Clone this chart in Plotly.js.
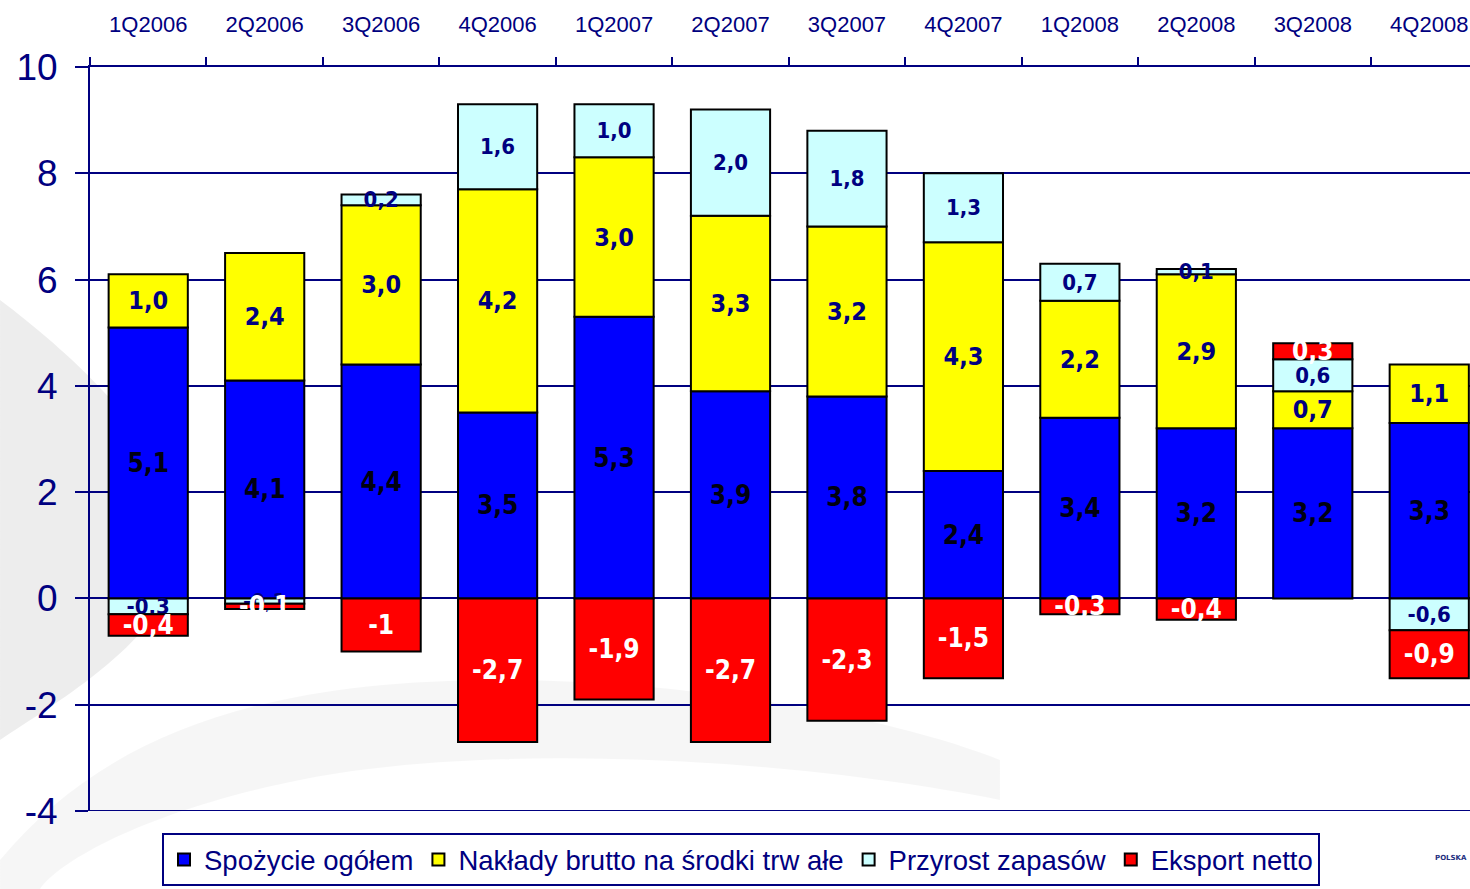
<!DOCTYPE html>
<html>
<head>
<meta charset="utf-8">
<script src="https://cdn.plot.ly/plotly-3.0.1.min.js"></script>
<style>
  html, body { margin: 0; padding: 0; background: #ffffff; overflow: hidden; }
  #chart { width: 1470px; height: 889px; }
</style>
</head>
<body>
<div id="chart"></div>
<script>
// ---- data ----
const quarters = ['1Q2006','2Q2006','3Q2006','4Q2006','1Q2007','2Q2007','3Q2007','4Q2007','1Q2008','2Q2008','3Q2008','4Q2008'];
const spozycie = [5.1, 4.1, 4.4, 3.5, 5.3, 3.9, 3.8, 2.4, 3.4, 3.2, 3.2, 3.3];
const naklady  = [1.0, 2.4, 3.0, 4.2, 3.0, 3.3, 3.2, 4.3, 2.2, 2.9, 0.7, 1.1];
const zapasy   = [-0.3, -0.1, 0.2, 1.6, 1.0, 2.0, 1.8, 1.3, 0.7, 0.1, 0.6, -0.6];
const eksport  = [-0.4, -0.1, -1, -2.7, -1.9, -2.7, -2.3, -1.5, -0.3, -0.4, 0.3, -0.9];
const seriesNames = ['Spożycie ogółem', 'Nakłady brutto na środki trw ałe', 'Przyrost zapasów', 'Eksport netto'];
const yTickVals = [-4, -2, 0, 2, 4, 6, 8, 10];
const yTickText = ['-4', '-2', '0', '2', '4', '6', '8', '10'];

// ---- helpers ----
const NAVY = '#000080';
const fmt1 = v => v.toFixed(1).replace('.', ',');
const fmtG = v => String(v).replace('.', ',');
const labelFont = 'DejaVu Sans Condensed, DejaVu Sans, Verdana, sans-serif';

function barTrace(name, values, color, textColor, size, fmt) {
  return {
    type: 'bar',
    name: name,
    x: quarters,
    y: values,
    text: values.map(fmt),
    textposition: 'inside',
    insidetextanchor: 'middle',
    constraintext: 'none',
    textangle: 0,
    cliponaxis: false,
    textfont: { family: labelFont, size: size, color: textColor, weight: 'bold' },
    insidetextfont: { family: labelFont, size: size, color: textColor, weight: 'bold' },
    marker: { color: color, line: { color: '#000000', width: 2 } },
    hoverinfo: 'skip'
  };
}

const traces = [
  barTrace(seriesNames[0], spozycie, '#0000FF', '#000010', 26, fmt1),
  barTrace(seriesNames[1], naklady,  '#FFFF00', NAVY, 25, fmt1),
  barTrace(seriesNames[2], zapasy,   '#CCFFFF', NAVY, 22, fmt1),
  barTrace(seriesNames[3], eksport,  '#FF0000', '#FFFFFF', 26, fmtG)
];

// decorative background swooshes (pixel -> paper coordinates)
const L = 90, R = 1470, T = 67, B = 811;
const px = x => ((x - L) / (R - L)).toFixed(4);
const py = y => ((B - y) / (B - T)).toFixed(4);
function pathFrom(cmds) {
  return cmds.map(c => c[0] + ' ' + c.slice(1).map(p => px(p[0]) + ',' + py(p[1])).join(' ')).join(' ') + ' Z';
}
const swooshA = pathFrom([
  ['M', [0, 300]],
  ['C', [80, 360], [200, 470], [180, 560]],
  ['C', [165, 640], [60, 700], [0, 740]]
]);
const swooshB = pathFrom([
  ['M', [0, 860]],
  ['C', [100, 740], [250, 680], [500, 680]],
  ['C', [700, 680], [900, 720], [1000, 760]],
  ['L', [1000, 800]],
  ['C', [800, 760], [500, 740], [300, 780]],
  ['C', [150, 810], [60, 860], [40, 889]],
  ['L', [0, 889]]
]);

const layout = {
  width: 1470,
  height: 889,
  margin: { l: L, r: 0, t: T, b: 889 - B, pad: 0 },
  paper_bgcolor: '#ffffff',
  plot_bgcolor: 'rgba(0,0,0,0)',
  barmode: 'relative',
  bargap: 0.32,
  separators: ', ',
  showlegend: true,
  xaxis: {
    type: 'category',
    side: 'top',
    range: [-0.5, 11.35],
    showline: true,
    linecolor: NAVY,
    linewidth: 2,
    ticks: 'outside',
    ticklen: 8,
    tickwidth: 2,
    tickcolor: NAVY,
    tickson: 'boundaries',
    ticklabelstandoff: 24,
    tickfont: { family: 'Liberation Sans, Arial, sans-serif', size: 22, color: NAVY },
    showgrid: false,
    zeroline: false,
    fixedrange: true
  },
  yaxis: {
    range: [-4, 10],
    tickmode: 'array',
    tickvals: yTickVals,
    ticktext: yTickText,
    showline: true,
    linecolor: NAVY,
    linewidth: 2,
    ticks: 'outside',
    ticklen: 13,
    tickwidth: 2,
    tickcolor: NAVY,
    ticklabelstandoff: 10,
    tickfont: { family: 'Liberation Sans, Arial, sans-serif', size: 37, color: NAVY },
    showgrid: true,
    gridcolor: NAVY,
    gridwidth: 2,
    zeroline: true,
    zerolinecolor: NAVY,
    zerolinewidth: 2,
    fixedrange: true
  },
  legend: {
    orientation: 'h',
    x: (162 - L) / (R - L),
    y: -(833 - B) / (B - T),
    xanchor: 'left',
    yanchor: 'top',
    bordercolor: NAVY,
    borderwidth: 2,
    bgcolor: 'rgba(255,255,255,0)',
    font: { family: 'Liberation Sans, Arial, sans-serif', size: 27.5, color: NAVY },
    traceorder: 'normal',
    itemwidth: 30
  },
  shapes: [
    { type: 'path', xref: 'paper', yref: 'paper', path: swooshA, fillcolor: 'rgba(0,0,0,0.07)', line: { width: 0 }, layer: 'below' },
    { type: 'path', xref: 'paper', yref: 'paper', path: swooshB, fillcolor: 'rgba(0,0,0,0.035)', line: { width: 0 }, layer: 'below' },
    { type: 'line', xref: 'paper', yref: 'y', x0: 0, x1: 1, y0: -4, y1: -4, line: { color: NAVY, width: 2 }, layer: 'above' }
  ],
  annotations: [
    { xref: 'paper', yref: 'paper', x: px(1433), y: py(858), xanchor: 'left', yanchor: 'middle', showarrow: false,
      text: 'POLSKA', font: { family: 'DejaVu Sans, sans-serif', size: 7, color: '#1f2f7f', weight: 'bold' } }
  ]
};

Plotly.newPlot('chart', traces, layout, { displayModeBar: false, staticPlot: true });
</script>
</body>
</html>
